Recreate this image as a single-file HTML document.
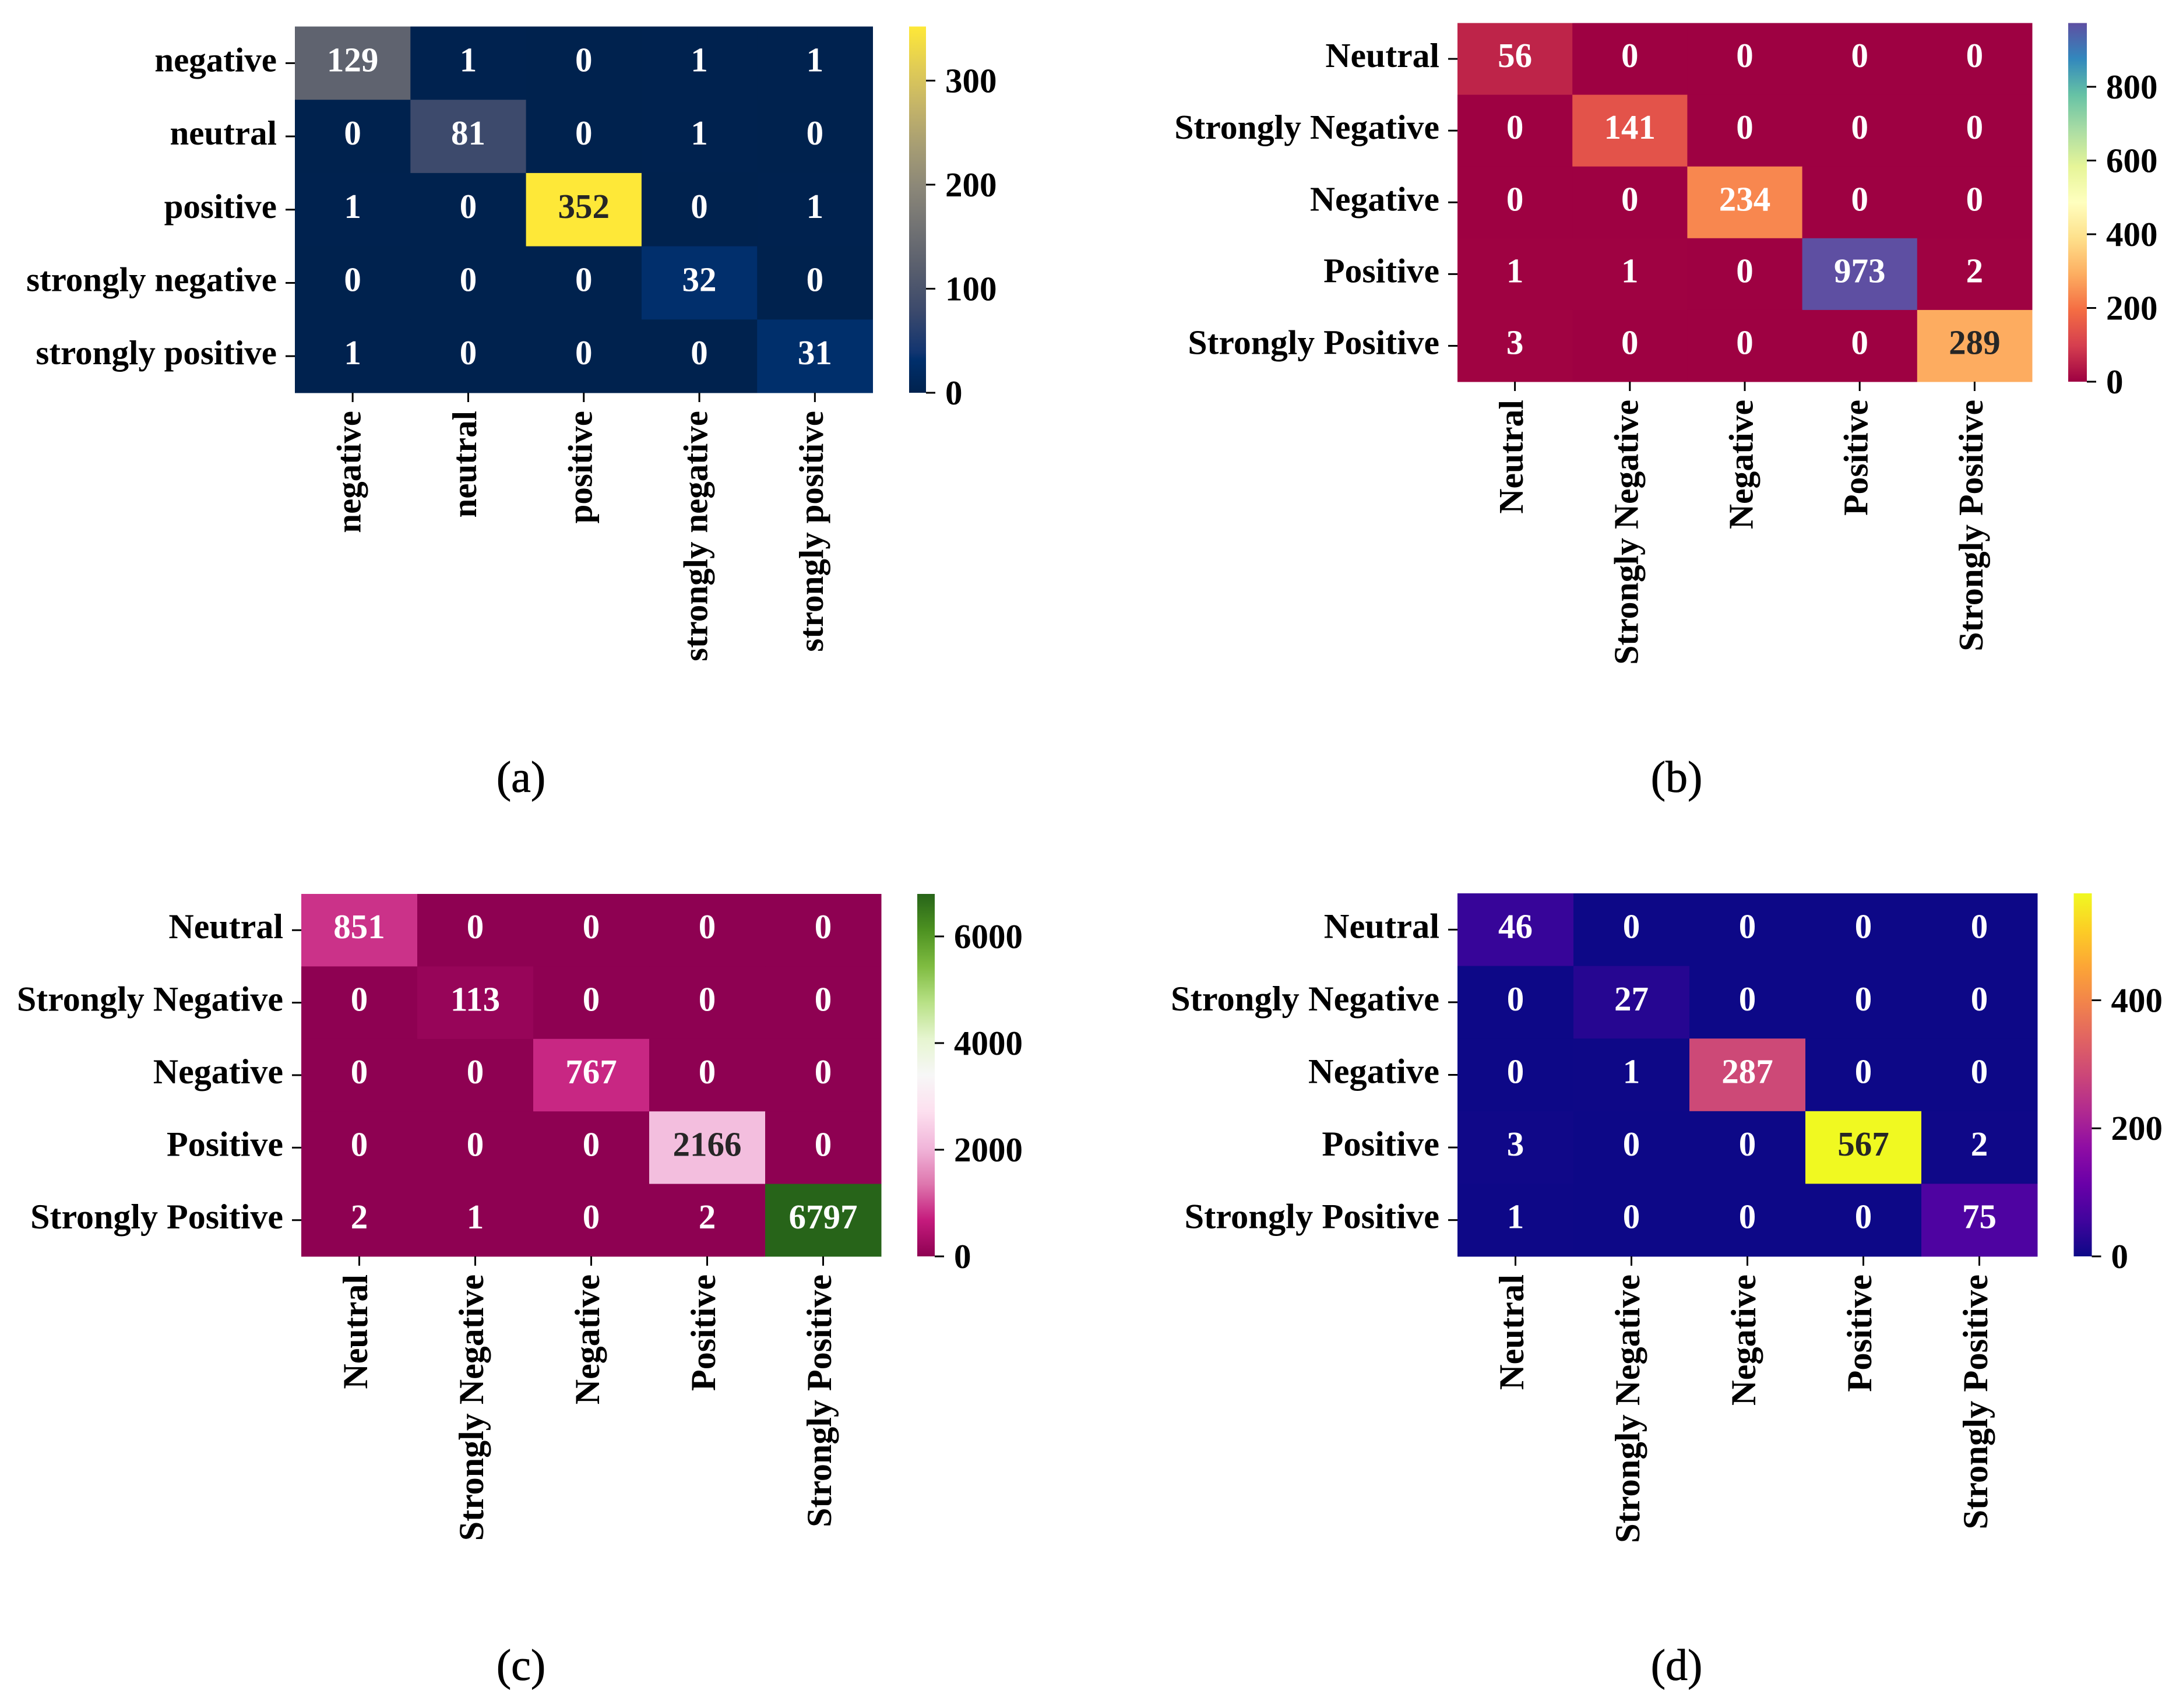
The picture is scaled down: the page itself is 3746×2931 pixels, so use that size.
<!DOCTYPE html>
<html lang="en">
<head>
<meta charset="utf-8">
<title>Confusion matrices</title>
<style>
html,body{margin:0;padding:0;background:#fff;}
svg{display:block;}
text{font-family:"Liberation Serif","Times New Roman",serif;}
.b{font-weight:bold;font-size:59px;}
.cap{font-weight:normal;font-size:76px;stroke:#000;stroke-width:0.8px;}
</style>
</head>
<body>
<svg id="figure" xmlns="http://www.w3.org/2000/svg" width="3746" height="2931" viewBox="0 0 3746 2931"></svg>
<script>
// ---- Data ----
const labelsA = ["negative","neutral","positive","strongly negative","strongly positive"];
const labelsOther = ["Neutral","Strongly Negative","Negative","Positive","Strongly Positive"];

const valuesA = [
  [129,1,0,1,1],
  [0,81,0,1,0],
  [1,0,352,0,1],
  [0,0,0,32,0],
  [1,0,0,0,31]
];
const valuesB = [
  [56,0,0,0,0],
  [0,141,0,0,0],
  [0,0,234,0,0],
  [1,1,0,973,2],
  [3,0,0,0,289]
];
const valuesC = [
  [851,0,0,0,0],
  [0,113,0,0,0],
  [0,0,767,0,0],
  [0,0,0,2166,0],
  [2,1,0,2,6797]
];
const valuesD = [
  [46,0,0,0,0],
  [0,27,0,0,0],
  [0,1,287,0,0],
  [3,0,0,567,2],
  [1,0,0,0,75]
];

const ticksA = [0,100,200,300];
const ticksB = [0,200,400,600,800];
const ticksC = [0,2000,4000,6000];
const ticksD = [0,200,400];

// Colour scales: [fraction, colour]
const cividis = [[0,"#00224e"],[0.09,"#002f6c"],[0.111,"#123570"],[0.222,"#3b496c"],[0.333,"#575d6d"],[0.444,"#707173"],[0.556,"#8a8678"],[0.667,"#a59c74"],[0.778,"#c3b369"],[0.889,"#e1cc55"],[1,"#fee838"]];
const spectral = [[0,"#9e0142"],[0.1,"#d53e4f"],[0.2,"#f46d43"],[0.3,"#fdae61"],[0.4,"#fee08b"],[0.5,"#ffffbf"],[0.6,"#e6f598"],[0.7,"#abdda4"],[0.8,"#66c2a5"],[0.9,"#3288bd"],[1,"#5e4fa2"]];
const piyg = [[0,"#8e0152"],[0.1,"#c51b7d"],[0.2,"#de77ae"],[0.3,"#f1b6da"],[0.4,"#fde0ef"],[0.5,"#f7f7f7"],[0.6,"#e6f5d0"],[0.7,"#b8e186"],[0.8,"#7fbc41"],[0.9,"#4d9221"],[1,"#276419"]];
const plasma = [[0,"#0d0887"],[0.1,"#41049d"],[0.2,"#6a00a8"],[0.3,"#8f0da4"],[0.4,"#b12a90"],[0.5,"#cc4778"],[0.6,"#e16462"],[0.7,"#f2844b"],[0.8,"#fca636"],[0.9,"#fcce25"],[1,"#f0f921"]];

// ---- Helpers ----
const NS = "http://www.w3.org/2000/svg";
const svg = document.getElementById("figure");

function make(tag, attrs, parent, txt){
  const el = document.createElementNS(NS, tag);
  for (const k in attrs) el.setAttribute(k, attrs[k]);
  if (txt !== undefined) el.textContent = txt;
  (parent || svg).appendChild(el);
  return el;
}
function hexRgb(h){
  return [parseInt(h.slice(1,3),16),parseInt(h.slice(3,5),16),parseInt(h.slice(5,7),16)];
}
function colorAt(scale, t){
  t = Math.max(0, Math.min(1, t));
  for (let i = 1; i < scale.length; i++){
    if (t <= scale[i][0]){
      const a = scale[i-1], b = scale[i];
      const f = (t - a[0]) / (b[0] - a[0]);
      const ca = hexRgb(a[1]), cb = hexRgb(b[1]);
      return ca.map((v,j)=>Math.round(v + (cb[j]-v)*f));
    }
  }
  return hexRgb(scale[scale.length-1][1]);
}
function luminance(rgb){
  const c = rgb.map(v=>{ v/=255; return v<=0.03928 ? v/12.92 : Math.pow((v+0.055)/1.055,2.4); });
  return 0.2126*c[0]+0.7152*c[1]+0.0722*c[2];
}
function css(rgb){ return "rgb("+rgb.join(",")+")"; }

function drawPanel(id, values, labels, ticks, scale, box, cbar, caption, labelSize){
  const group = make("g", {});
  
  

  const n = values.length;
  const maxV = Math.max(...values.flat());
  const xOf = i => box.left + (box.right - box.left) * i / n;
  const yOf = i => box.top + (box.bottom - box.top) * i / n;
  const cbY = v => box.bottom - (box.bottom - box.top) * v / maxV;

  // cells and annotations
  values.forEach((row, r) => {
    row.forEach((v, c) => {
      const rgb = colorAt(scale, v / maxV);
      const cell = make("rect", {x:xOf(c), y:yOf(r), width:xOf(c+1)-xOf(c)+0.5, height:yOf(r+1)-yOf(r)+0.5, fill:css(rgb)}, group);
      
      
    });
  });
  values.forEach((row, r) => {
    row.forEach((v, c) => {
      const rgb = colorAt(scale, v / maxV);
      const note = make("text", {
        x:(xOf(c)+xOf(c+1))/2, y:(yOf(r)+yOf(r+1))/2+14, "text-anchor":"middle", "class":"b",
        fill: luminance(rgb) > 0.408 ? "#262626" : "#ffffff"
      }, group, String(v));
      
      
    });
  });

  // y axis
  labels.forEach((lab, i) => {
    const y = (yOf(i)+yOf(i+1))/2;
    const tick = make("line", {x1:box.left-16, x2:box.left, y1:y, y2:y, stroke:"#000", "stroke-width":3}, group);
    
    
    const t = make("text", {x:box.left-31, y:y+14, "text-anchor":"end", "class":"b", fill:"#000", style:"font-size:"+labelSize+"px"}, group, lab);
    
    
  });

  // x axis
  labels.forEach((lab, i) => {
    const x = (xOf(i)+xOf(i+1))/2;
    const tick = make("line", {x1:x, x2:x, y1:box.bottom, y2:box.bottom+16, stroke:"#000", "stroke-width":3}, group);
    
    
    const yTop = box.bottom + 31;
    const bx = x + 13.5;
    const t = make("text", {x:bx, y:yTop, "text-anchor":"end", "class":"b", fill:"#000", style:"font-size:"+labelSize+"px",
      transform:"rotate(-90 "+bx+" "+yTop+")"}, group, lab);
    
    
  });

  // colour bar
  const defs = make("defs", {}, group);
  const grad = make("linearGradient", {id:"grad-"+id, x1:0, y1:1, x2:0, y2:0}, defs);
  scale.forEach(s => make("stop", {offset:s[0], "stop-color":s[1]}, grad));
  const bar = make("rect", {x:cbar.left, y:box.top, width:cbar.right-cbar.left, height:box.bottom-box.top, fill:"url(#grad-"+id+")"}, group);
  
  
  ticks.forEach(v => {
    const y = cbY(v);
    const tick = make("line", {x1:cbar.right, x2:cbar.right+16, y1:y, y2:y, stroke:"#000", "stroke-width":3}, group);
    
    
    const t = make("text", {x:cbar.right+33, y:y+20, "class":"b", fill:"#000"}, group, String(v));
    
    
  });

  // caption
  const cap = make("text", {x:caption.x, y:caption.y, "text-anchor":"middle", "class":"cap", fill:"#000"}, group, "("+id+")");
  
  
}

drawPanel("a", valuesA, labelsA, ticksA, cividis,
  {left:506, right:1497.5, top:45.5, bottom:674}, {left:1560, right:1589}, {x:894, y:1359}, 59);
drawPanel("b", valuesB, labelsOther, ticksB, spectral,
  {left:2501, right:3487, top:39.5, bottom:655}, {left:3549, right:3581}, {x:2877, y:1359}, 59.7);
drawPanel("c", valuesC, labelsOther, ticksC, piyg,
  {left:517, right:1512, top:1534, bottom:2156}, {left:1574, right:1604}, {x:894, y:2883}, 60);
drawPanel("d", valuesD, labelsOther, ticksD, plasma,
  {left:2501, right:3496, top:1533, bottom:2156}, {left:3558.5, right:3589.5}, {x:2877, y:2883}, 60.5);
</script>
</body>
</html>
